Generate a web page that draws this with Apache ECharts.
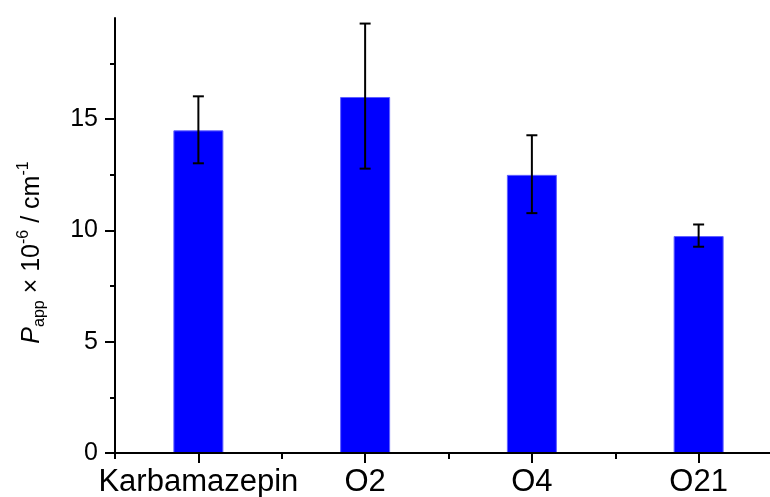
<!DOCTYPE html>
<html><head><meta charset="utf-8">
<script src="https://cdn.jsdelivr.net/npm/echarts@6/dist/echarts.min.js"></script>
<style>html,body{margin:0;padding:0;background:#fff}#c{width:770px;height:497px}</style>
</head><body><div id="c"></div>
<script>
const categories = ['Karbamazepin', 'O2', 'O4', 'O21'];
const values = [14.5, 16.0, 12.5, 9.75];
const errLow = [13.02, 12.78, 10.78, 9.27];
const errHigh = [16.03, 19.3, 14.28, 10.27];
const yMajorTicks = [0, 5, 10, 15];
const yMinorTicks = [2.5, 7.5, 12.5, 17.5];
const yMax = 19.55;

const FF = "'Liberation Sans', Arial, sans-serif";
const black = '#000';
const errData = categories.map((c, i) => [i, errLow[i], errHigh[i]]);

const chart = echarts.init(document.getElementById('c'), null, {renderer: 'canvas'});
chart.setOption({
  animation: false,
  backgroundColor: '#fff',
  grid: {left: 115, right: -12, top: 18, bottom: 44, containLabel: false, outerBoundsMode: 'none'},
  xAxis: [
    {
      type: 'category', data: categories, position: 'bottom', z: 5,
      axisLine: {show: true, lineStyle: {color: black, width: 2}},
      axisTick: {show: true, alignWithLabel: true, interval: 0, length: 10, lineStyle: {color: black, width: 2}},
      axisLabel: {show: true, interval: 0, color: black, fontSize: 31, fontFamily: FF, margin: 14},
      splitLine: {show: false}
    },
    {
      type: 'category', data: categories, position: 'bottom', z: 5,
      axisLine: {show: false},
      axisTick: {show: true, interval: 0, length: 6, lineStyle: {color: black, width: 2}},
      axisLabel: {show: false},
      splitLine: {show: false}
    }
  ],
  yAxis: [
    {
      type: 'value', min: 0, max: yMax, position: 'left', z: 5,
      axisLine: {show: true, lineStyle: {color: black, width: 2}},
      axisTick: {show: true, length: 10, customValues: yMajorTicks, lineStyle: {color: black, width: 2}},
      axisLabel: {show: true, customValues: yMajorTicks, color: black, fontSize: 25, fontFamily: FF, margin: 17},
      splitLine: {show: false},
      name: '{i|P}{sub|app}{n| × 10}{sup|-6}{n| / cm}{sup|-1}',
      nameLocation: 'middle', nameGap: 67,
      nameTextStyle: {
        color: black, fontFamily: FF, fontSize: 25,
        padding: [0, 34, 0, 0],
        rich: {
          i: {fontStyle: 'italic', fontSize: 25, fontFamily: FF, color: black, lineHeight: 32},
          n: {fontSize: 25, fontFamily: FF, color: black, lineHeight: 32},
          sub: {fontSize: 16, fontFamily: FF, color: black, verticalAlign: 'bottom', lineHeight: 16},
          sup: {fontSize: 16, fontFamily: FF, color: black, verticalAlign: 'top', lineHeight: 16}
        }
      }
    },
    {
      type: 'value', min: 0, max: yMax, position: 'left', z: 5,
      axisLine: {show: false},
      axisTick: {show: true, length: 5, customValues: yMinorTicks, lineStyle: {color: black, width: 2}},
      axisLabel: {show: false},
      splitLine: {show: false}
    }
  ],
  series: [
    {
      type: 'bar', data: values, xAxisIndex: 0, yAxisIndex: 0, barWidth: 50,
      itemStyle: {color: '#0000ff', borderColor: '#6060ff', borderWidth: 1}
    },
    {
      type: 'custom', data: errData, xAxisIndex: 0, yAxisIndex: 0, z: 4,
      renderItem: function (params, api) {
        const i = api.value(0);
        const lo = api.coord([i, api.value(1)]);
        const hi = api.coord([i, api.value(2)]);
        const hw = 5.5;
        const st = {stroke: black, lineWidth: 2};
        return {
          type: 'group',
          children: [
            {type: 'line', shape: {x1: lo[0], y1: lo[1], x2: hi[0], y2: hi[1]}, style: st},
            {type: 'line', shape: {x1: lo[0] - hw, y1: lo[1], x2: lo[0] + hw, y2: lo[1]}, style: st},
            {type: 'line', shape: {x1: hi[0] - hw, y1: hi[1], x2: hi[0] + hw, y2: hi[1]}, style: st}
          ]
        };
      }
    }
  ]
});
</script>
</body></html>
